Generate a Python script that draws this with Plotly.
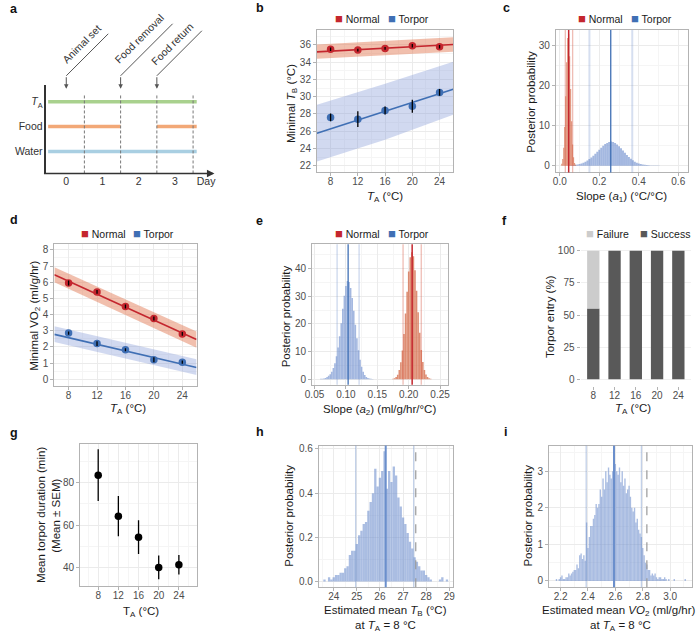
import plotly.graph_objects as go

W, H = 700, 634
FONT = "Liberation Sans, Arial, Helvetica, sans-serif"

# ------------------------------------------------------------------ data
# panel a (experimental timeline)
day_ticks = [0, 1, 2, 3, 3.86]
day_tick_text = ["0", "1", "2", "3", "Day"]
row_vals = [1, 2, 3]
row_text = ["Water", "Food", "<i>T</i><sub>A</sub>"]
ta_on = [[-0.5, 3.6]]
food_on = [[-0.5, 1.5], [2.5, 3.6]]
water_on = [[-0.5, 3.6]]
day_bounds = [0.5, 1.5, 2.5, 3.5]
events = ["Animal set", "Food removal", "Food return"]
event_days = [0, 1.5, 2.5]

# panel b (minimal body temperature)
ta = [8, 12, 16, 20, 24]
ta_cat = ["8", "12", "16", "20", "24"]
tb_normal = [35.5, 35.4, 35.6, 35.9, 35.8]
tb_normal_err = [0.2, 0.15, 0.15, 0.2, 0.2]
tb_torpor = [27.6, 27.4, 28.4, 28.9, 30.5]
tb_torpor_err = [0.45, 0.9, 0.45, 0.75, 0.4]
fit_x = [6, 16, 26]
tb_normal_fit = [35.2, 35.62, 36.05]
tb_normal_lo = [34.4, 34.8, 35.2]
tb_normal_hi = [36.05, 36.45, 36.9]
tb_torpor_fit = [25.77, 28.3, 30.86]
tb_torpor_lo = [22.5, 25.0, 27.9]
tb_torpor_hi = [29.06, 31.5, 34.05]

# panel c (posterior of slope a1)
c_normal_start, c_normal_w = 0.010, 0.005
c_normal_dens = [0.5, 1.7, 4.5, 9.7, 17.4, 25.9, 32.0, 33.0, 27.4, 19.2, 11.1, 5.3, 2.1, 0.7, 0.2]
c_torpor_start, c_torpor_w = 0.05, 0.01
c_torpor_dens = [0.05, 0.1, 0.15, 0.2, 0.3, 0.4, 0.55, 0.75, 1.0, 1.3, 1.65, 2.05, 2.5, 3.0,
                 3.5, 4.0, 4.5, 5.0, 5.4, 5.7, 5.95, 6.05, 5.95, 5.7, 5.3, 4.85, 4.35, 3.8,
                 3.25, 2.7, 2.2, 1.75, 1.35, 1.0, 0.75, 0.55, 0.4, 0.28, 0.2, 0.14, 0.1,
                 0.07, 0.05, 0.03, 0.02, 0.02, 0.01, 0.01]
c_normal_ci = [0.028, 0.065]
c_normal_med = 0.045
c_torpor_ci = [0.15, 0.367]
c_torpor_med = 0.258

# panel d (minimal VO2)
vo2_normal = [5.95, 5.4, 4.5, 3.75, 2.8]
vo2_normal_err = [0.15, 0.12, 0.12, 0.12, 0.12]
vo2_torpor = [2.85, 2.2, 1.82, 1.2, 1.05]
vo2_torpor_err = [0.1, 0.15, 0.1, 0.15, 0.1]
vo2_normal_fit = [6.46, 4.46, 2.46]
vo2_normal_lo = [6.0, 3.98, 1.94]
vo2_normal_hi = [6.93, 4.93, 2.95]
vo2_torpor_fit = [2.77, 1.75, 0.72]
vo2_torpor_lo = [2.3, 1.28, 0.26]
vo2_torpor_hi = [3.28, 2.25, 1.23]

# panel e (posterior of slope a2)
e_torpor_start, e_w = 0.0600, 0.0025
e_torpor_dens = [0.1, 0.15, 0.25, 0.45, 0.75, 1.2, 1.8, 2.7, 4.0, 5.8, 8.3, 11.5, 15.5, 20.3,
                 25.5, 30.2, 33.8, 35.6, 35.2, 33.0, 29.4, 24.8, 19.7, 14.8, 10.5, 7.0, 4.5,
                 2.7, 1.5, 0.8, 0.4, 0.2, 0.1, 0.05]
e_normal_start = 0.1750
e_normal_dens = [0.12, 0.3, 0.74, 1.62, 3.28, 6.1, 10.4, 16.4, 23.8, 31.7, 39.0, 44.2, 46.0,
                 44.5, 39.5, 32.0, 24.2, 16.8, 10.6, 6.2, 3.3, 1.65, 0.75, 0.3, 0.12]
e_torpor_ci = [0.086, 0.121]
e_torpor_med = 0.1035
e_normal_ci = [0.191, 0.220]
e_normal_med = 0.2055

# panel f (torpor entry)
success_pct = [55, 100, 100, 100, 100]
failure_pct = [45, 0, 0, 0, 0]

# panel g (torpor duration)
dur_mean = [83.5, 64.2, 54.3, 40.0, 41.3]
dur_sem = [12.2, 9.5, 8.0, 5.6, 4.6]

# panel h (estimated mean TB at TA = 8)
h_start, h_w = 23.6, 0.1
h_dens = [0.01, 0.0, 0.02, 0.01, 0.02, 0.03, 0.03, 0.04, 0.04, 0.06, 0.07, 0.12, 0.14, 0.14,
          0.17, 0.21, 0.23, 0.26, 0.27, 0.32, 0.36, 0.40, 0.51, 0.43, 0.47, 0.50, 0.59, 0.42,
          0.50, 0.45, 0.52, 0.48, 0.38, 0.34, 0.29, 0.26, 0.22, 0.18, 0.15, 0.11, 0.09, 0.07,
          0.05, 0.05, 0.03, 0.02, 0.01, 0.0, 0.0, 0.0, 0.01, 0.02, 0.0, 0.01]
h_ci = [24.95, 27.46]
h_med = 26.25
h_obs = 27.55

# panel i (estimated mean VO2 at TA = 8)
i_start, i_w = 2.17, 0.01
i_dens = [0.05, 0.0, 0.05, 0.1, 0.15, 0.05, 0.05, 0.1, 0.1, 0.2,
          0.15, 0.2, 0.25, 0.3, 0.3, 0.45, 0.35, 0.7, 0.75, 0.6,
          0.7, 0.55, 1.6, 0.9, 1.2, 1.5, 1.5, 1.7, 1.8, 2.1,
          2.0, 2.1, 2.5, 2.3, 2.8, 2.5, 3.0, 2.7, 3.1, 2.9,
          2.8, 3.0, 3.55, 3.2, 3.0, 2.9, 3.1, 2.7, 3.0, 2.6,
          2.8, 2.4, 2.5, 2.6, 2.3, 2.0, 1.9, 2.0, 1.6, 1.7,
          1.4, 1.3, 1.2, 0.9, 0.7, 0.5, 0.45, 0.3, 0.3, 0.15,
          0.2, 0.15, 0.2, 0.1, 0.05, 0.1, 0.1, 0.05, 0.05, 0.1,
          0.05, 0.0, 0.05, 0.0, 0.0, 0.0, 0.05, 0.0, 0.0, 0.0,
          0.0, 0.0, 0.0, 0.0, 0.05]
i_ci = [2.387, 2.79]
i_med = 2.59
i_obs = 2.83

# ------------------------------------------------------------------ style
FRAME = "#b3b3b3"
GRID = "#ebebeb"
MINOR = "#f5f5f5"
TICKC = "#4d4d4d"
TITLEC = "#1a1a1a"
RED = "#c4262e"
RED_BAND = "rgba(228,128,92,0.5)"
RED_HIST = "rgba(214,112,80,0.8)"
RED_CI = "rgba(214,90,70,0.4)"
BLUE = "#3f6fb4"
BLUE_BAND = "rgba(135,155,215,0.38)"
BLUE_HIST = "rgba(108,140,205,0.62)"
BLUE_CI = "rgba(120,150,205,0.3)"
GREEN_A = "#a9d18e"
ORANGE_A = "#f2a877"
LBLUE_A = "#a9cfe2"


def xdom(a, b):
    return [a / W, b / W]


def ydom(top, bot):
    return [1 - bot / H, 1 - top / H]


def PX(x):
    return x / W


def PY(y):
    return 1 - y / H


def centers(start, w, vals):
    return [start + k * w for k in range(len(vals))]


def frame_axis(dom, rng, dtick, tick0, minor_dtick, anchor, is_x, **kw):
    d = dict(domain=dom, range=rng, anchor=anchor, showline=True, mirror=True,
             linecolor=FRAME, linewidth=1, ticks="outside", ticklen=3, tickwidth=1,
             tickcolor=FRAME, tickfont=dict(size=10, color=TICKC, family=FONT),
             showgrid=True, gridcolor=GRID, gridwidth=0.8, zeroline=False,
             dtick=dtick, tick0=tick0,
             minor=dict(dtick=minor_dtick, tick0=tick0, showgrid=True,
                        gridcolor=MINOR, gridwidth=0.5))
    if is_x:
        d["ticklabelstandoff"] = -3
    d.update(kw)
    return d


fig = go.Figure()

# ------------------------------------------------------------------ panel a
for segs, col, row in [(ta_on, GREEN_A, 3), (food_on, ORANGE_A, 2), (water_on, LBLUE_A, 1)]:
    for s in segs:
        fig.add_trace(go.Scatter(x=s, y=[row, row], mode="lines", xaxis="x", yaxis="y",
                                 line=dict(color=col, width=3.5), hoverinfo="skip"))
for b in day_bounds:
    fig.add_shape(type="line", xref="x", yref="y domain", x0=b, x1=b, y0=0, y1=0.9,
                  line=dict(color="#777", width=1, dash="3px,2px"))

# ------------------------------------------------------------------ panel b / d helpers


def regression_panel(ax, yvals_n, err_n, yvals_t, err_t, fit_n, lo_n, hi_n, fit_t, lo_t, hi_t):
    xa, ya = "x" + ax, "y" + ax
    for lo, hi, col in [(lo_n, hi_n, RED_BAND), (lo_t, hi_t, BLUE_BAND)]:
        fig.add_trace(go.Scatter(x=fit_x + fit_x[::-1], y=hi + lo[::-1], fill="toself",
                                 fillcolor=col, line=dict(width=0), mode="lines",
                                 xaxis=xa, yaxis=ya, hoverinfo="skip"))
    for fit, col in [(fit_n, RED), (fit_t, BLUE)]:
        fig.add_trace(go.Scatter(x=fit_x, y=fit, mode="lines", line=dict(color=col, width=1.6),
                                 xaxis=xa, yaxis=ya))
    for yv, er, col in [(yvals_n, err_n, RED), (yvals_t, err_t, BLUE)]:
        fig.add_trace(go.Scatter(x=ta, y=yv, mode="markers",
                                 marker=dict(color=col, size=7.5), xaxis=xa, yaxis=ya))
        fig.add_trace(go.Scatter(x=ta, y=yv, mode="markers", marker=dict(size=1, opacity=0),
                                 error_y=dict(type="data", array=er, color="black",
                                              thickness=1.3, width=0),
                                 xaxis=xa, yaxis=ya))


regression_panel("2", tb_normal, tb_normal_err, tb_torpor, tb_torpor_err,
                 tb_normal_fit, tb_normal_lo, tb_normal_hi,
                 tb_torpor_fit, tb_torpor_lo, tb_torpor_hi)
regression_panel("4", vo2_normal, vo2_normal_err, vo2_torpor, vo2_torpor_err,
                 vo2_normal_fit, vo2_normal_lo, vo2_normal_hi,
                 vo2_torpor_fit, vo2_torpor_lo, vo2_torpor_hi)

# ------------------------------------------------------------------ histogram helper


def hist(ax, start, w, vals, col):
    fig.add_trace(go.Bar(x=centers(start, w, vals), y=vals, width=w,
                         marker=dict(color=col, line=dict(width=0)),
                         xaxis="x" + ax, yaxis="y" + ax))


def vline(ax, x, col, width, dash="solid"):
    fig.add_shape(type="line", xref="x" + ax, yref="y" + ax + " domain", x0=x, x1=x,
                  y0=0, y1=1, line=dict(color=col, width=width, dash=dash))


# panel c
hist("3", c_torpor_start, c_torpor_w, c_torpor_dens, BLUE_HIST)
hist("3", c_normal_start, c_normal_w, c_normal_dens, RED_HIST)
for v in c_torpor_ci:
    vline("3", v, BLUE_CI, 2)
for v in c_normal_ci:
    vline("3", v, RED_CI, 1.3)
vline("3", c_torpor_med, BLUE, 1.3)
vline("3", c_normal_med, RED, 1.5)

# panel e
hist("5", e_torpor_start, e_w, e_torpor_dens, BLUE_HIST)
hist("5", e_normal_start, e_w, e_normal_dens, RED_HIST)
for v in e_torpor_ci:
    vline("5", v, BLUE_CI, 1.6)
for v in e_normal_ci:
    vline("5", v, RED_CI, 1.3)
vline("5", e_torpor_med, BLUE, 1.3)
vline("5", e_normal_med, RED, 1.5)

# panel f
fig.add_trace(go.Bar(x=ta_cat, y=success_pct, width=0.58, marker=dict(color="#595959", line=dict(width=0)),
                     xaxis="x6", yaxis="y6"))
fig.add_trace(go.Bar(x=ta_cat, y=failure_pct, base=success_pct, width=0.58,
                     marker=dict(color="#cccccc", line=dict(width=0)), xaxis="x6", yaxis="y6"))

# panel g
fig.add_trace(go.Scatter(x=ta, y=dur_mean, mode="markers",
                         marker=dict(color="black", size=7.5),
                         error_y=dict(type="data", array=dur_sem, color="black", thickness=1.3, width=0),
                         xaxis="x7", yaxis="y7"))

# panel h
hist("8", h_start, h_w, h_dens, "rgba(118,148,208,0.62)")
for v in h_ci:
    vline("8", v, "rgba(120,150,205,0.45)", 1.3)
vline("8", h_med, "#6b8fcc", 2)
vline("8", h_obs, "#999999", 1.2, "dash")

# panel i
hist("9", i_start, i_w, i_dens, "rgba(118,148,208,0.62)")
for v in i_ci:
    vline("9", v, "rgba(120,150,205,0.45)", 1.3)
vline("9", i_med, "#6b8fcc", 2)
vline("9", i_obs, "#999999", 1.2, "dash")

# ------------------------------------------------------------------ axes
lay = dict(
    width=W, height=H, margin=dict(l=0, r=0, t=0, b=0),
    paper_bgcolor="white", plot_bgcolor="white", showlegend=False,
    barmode="overlay", font=dict(family=FONT, color=TITLEC),
)

lay["xaxis"] = dict(domain=xdom(40, 212), range=[-0.546, 4.14], anchor="y",
                    showline=False, showgrid=False, zeroline=False, ticks="",
                    tickvals=day_ticks, ticktext=day_tick_text,
                    tickfont=dict(size=10.5, color="#333", family=FONT))
lay["yaxis"] = dict(domain=ydom(83, 172), range=[0.12, 3.68], anchor="x",
                    showline=True, linecolor="#333", linewidth=1.5, showgrid=False,
                    zeroline=False, ticks="", tickvals=row_vals, ticktext=row_text,
                    tickfont=dict(size=10.5, color="#333", family=FONT))

lay["xaxis2"] = frame_axis(xdom(314, 452), [6, 26], 4, 8, 2, "y2", True)
lay["yaxis2"] = frame_axis(ydom(28, 171), [21.22, 37.74], 2, 22, 1, "x2", False)
lay["xaxis3"] = frame_axis(xdom(556, 690), [-0.02, 0.65], 0.2, 0, 0.1, "y3", True, tickformat=".1f")
lay["yaxis3"] = frame_axis(ydom(28, 171), [-1.7, 34], 10, 0, 5, "x3", False)
lay["xaxis4"] = frame_axis(xdom(48, 192), [6, 26], 4, 8, 2, "y4", True)
lay["yaxis4"] = frame_axis(ydom(243, 385), [-0.41, 8.35], 1, 0, 0.5, "x4", False)
lay["xaxis5"] = frame_axis(xdom(309, 447), [0.046, 0.263], 0.05, 0.05, 0.025, "y5", True, tickformat=".2f")
lay["yaxis5"] = frame_axis(ydom(243, 384), [-2.05, 48.9], 10, 0, 5, "x5", False)
lay["xaxis6"] = dict(domain=xdom(581, 693), range=[-0.6, 4.6], anchor="y6", type="category",
                     showline=False, showgrid=False, zeroline=False, ticks="outside",
                     ticklen=3, tickcolor=FRAME, ticklabelstandoff=-3,
                     tickfont=dict(size=10, color=TICKC, family=FONT))
lay["yaxis6"] = dict(domain=ydom(243, 385), range=[-5, 105], anchor="x6", showline=False,
                     showgrid=True, gridcolor="#f0f0f0", zeroline=False, ticks="outside",
                     ticklen=3, tickcolor=FRAME, tickvals=[0, 25, 50, 75, 100],
                     tickfont=dict(size=10, color=TICKC, family=FONT))
lay["xaxis7"] = frame_axis(xdom(74, 192), [4.4, 27.5], 4, 8, 2, "y7", True)
lay["yaxis7"] = frame_axis(ydom(443, 586), [31.2, 98.4], 20, 40, 10, "x7", False)
lay["xaxis8"] = frame_axis(xdom(316, 452), [23.36, 29.17], 1, 24, 0.5, "y8", True)
lay["yaxis8"] = frame_axis(ydom(445, 587), [-0.025, 0.615], 0.2, 0, 0.1, "x8", False, tickformat=".1f")
lay["xaxis9"] = frame_axis(xdom(549, 694), [2.115, 3.16], 0.2, 2.2, 0.1, "y9", True, tickformat=".1f")
lay["yaxis9"] = frame_axis(ydom(445, 587), [-0.17, 3.7], 1, 0, 0.5, "x9", False)

fig.update_layout(**lay)

# ------------------------------------------------------------------ annotations
anns = []


def txt(text, x, y, size=11.5, angle=0, xanchor="center", yanchor="middle", color=TITLEC, **kw):
    d = dict(text=text, x=PX(x), y=PY(y), xref="paper", yref="paper", showarrow=False,
             textangle=angle, xanchor=xanchor, yanchor=yanchor,
             font=dict(size=size, color=color, family=FONT))
    d.update(kw)
    anns.append(d)


# panel letters
for lab, x, y in [("a", 1, 7), ("b", 250, 6), ("c", 500, 6), ("d", 1, 219), ("e", 250, 220),
                  ("f", 499, 220), ("g", 1, 432), ("h", 250, 431), ("i", 501, 431)]:
    txt("<b>%s</b>" % lab, x, y, size=12.5, xanchor="left", color="#111")

# panel a: x-axis arrow and event arrows
anns.append(dict(x=4.09, y=0, xref="x", yref="y domain", ax=-172, ay=0, text="",
                 showarrow=True, arrowhead=2, arrowsize=1, arrowwidth=1.5, arrowcolor="#333",
                 standoff=0))
ev_shift = [(15, 32, 42), (18, 37, 52), (15, 32, 45)]
for name, d, (dx, dy, ln) in zip(events, event_days, ev_shift):
    anns.append(dict(x=d, y=PY(87), xref="x", yref="paper", ax=0, ay=-13, text="",
                     showarrow=True, arrowhead=2, arrowsize=0.9, arrowwidth=1,
                     arrowcolor="#555", standoff=0))
    fig.add_shape(type="line", xref="x", xsizemode="pixel", xanchor=d, x0=0, x1=ln,
                  yref="paper", ysizemode="pixel", yanchor=PY(74), y0=0, y1=ln,
                  line=dict(color="#555", width=1))
    anns.append(dict(text=name, x=d, y=PY(74), xref="x", yref="paper", xshift=dx, yshift=dy,
                     showarrow=False, textangle=-45, xanchor="center", yanchor="middle",
                     font=dict(size=10.5, color="#333", family=FONT)))

# legends


def leg(items, y, size=10.5):
    for label, col, x in items:
        txt('<span style="color:%s;font-size:13px">■</span> %s' % (col, label), x, y,
            size=size, xanchor="left", color=TITLEC)


leg([("Normal", RED, 330), ("Torpor", BLUE, 384)], 17)
leg([("Normal", RED, 576), ("Torpor", BLUE, 630)], 17)
leg([("Normal", RED, 73), ("Torpor", BLUE, 126)], 232)
leg([("Normal", RED, 330), ("Torpor", BLUE, 384)], 232)
leg([("Failure", "#cccccc", 585), ("Success", "#595959", 639)], 232)

# axis titles
TA_T = "<i>T</i><sub>A</sub> (°C)"
txt("Minimal <i>T</i><sub>B</sub> (°C)", 288, 102, angle=-90)
txt(TA_T, 383, 196)
txt("Posterior probability", 530, 100, angle=-90)
txt("Slope (<i>a</i><sub>1</sub>) (°C/°C)", 623, 196)
txt("Minimal VO<sub>2</sub> (ml/g/hr)", 28, 315, angle=-90)
txt(TA_T, 123, 408)
txt("Posterior probability", 283, 315, angle=-90)
txt("Slope (<i>a</i><sub>2</sub>) (ml/g/hr/°C)", 377, 409)
txt("Torpor entry (%)", 550, 315, angle=-90)
txt(TA_T, 634, 408)
txt("Mean torpor duration (min)", 35, 515, angle=-90)
txt("(Mean ± SEM)", 50, 515, angle=-90)
txt("T<sub>A</sub> (°C)", 136, 612)
txt("Posterior probability", 286, 515, angle=-90)
txt("Estimated mean <i>T</i><sub>B</sub> (°C)", 383, 611)
txt("at <i>T</i><sub>A</sub> = 8 °C", 383, 626)
txt("Posterior probability", 528, 515, angle=-90)
txt("Estimated mean <i>VO</i><sub>2</sub> (ml/g/hr)", 620, 611)
txt("at <i>T</i><sub>A</sub> = 8 °C", 621, 626)

fig.update_layout(annotations=anns)
fig.write_html("out.html", config={"displayModeBar": False},
               post_script="document.body.style.margin='0px';document.body.style.overflow='hidden';")
